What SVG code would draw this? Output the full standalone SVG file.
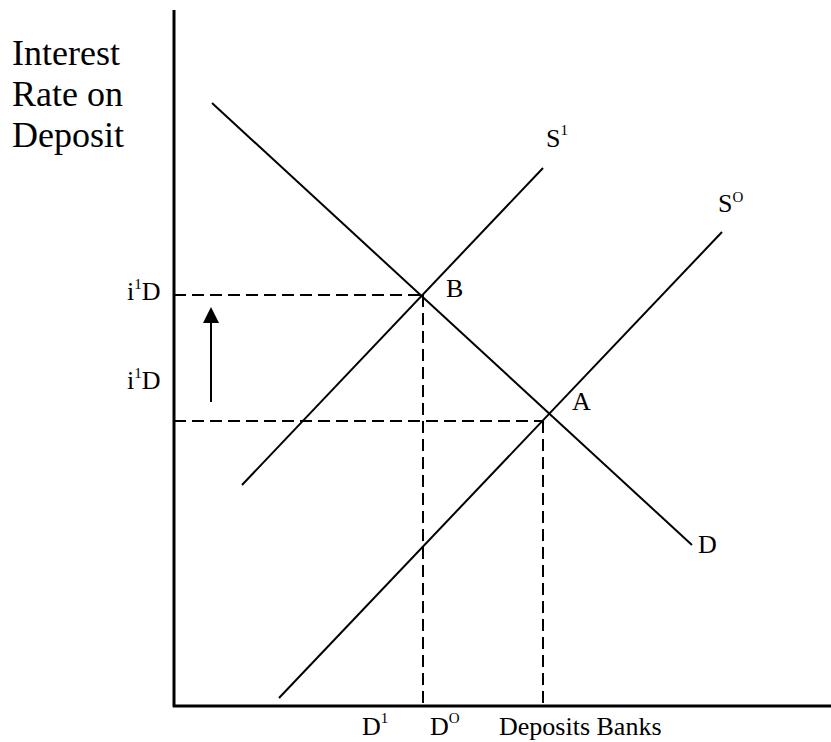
<svg xmlns="http://www.w3.org/2000/svg" width="831" height="742" viewBox="0 0 831 742">
<style>
.ln{stroke:#000;stroke-width:2;fill:none}
.ax{stroke:#000;stroke-width:3;fill:none}
.ds{stroke:#000;stroke-width:2;fill:none;stroke-dasharray:12,6}
text{font-family:"Liberation Serif","Times New Roman",serif;fill:#000}
.t{font-size:26px}
.big{font-size:36px}
.sup{font-size:15px}
</style>
<g id="axes">
<line class="ax" x1="174" y1="10" x2="174" y2="707"/>
<line class="ax" x1="173" y1="706" x2="831" y2="706"/>
</g>
<g id="title">
<text class="big" x="12" y="65">Interest</text>
<text class="big" x="12" y="106">Rate on</text>
<text class="big" x="12" y="147">Deposit</text>
</g>
<g id="connectors">
<line class="ds" x1="174" y1="295" x2="421" y2="295"/>
<line class="ds" x1="423" y1="295" x2="423" y2="706"/>
<line class="ds" x1="174" y1="421" x2="543" y2="421"/>
<line class="ds" x1="543" y1="421" x2="543" y2="706"/>
<path d="M211,402 L211,320" class="ln"/>
<path d="M203,323 L211,307 L219,323 z" fill="#000"/>
</g>
<g id="curveD">
<line class="ln" x1="212" y1="103" x2="692" y2="545"/>
<text class="t" x="698" y="553">D</text>
</g>
<g id="curveS1">
<line class="ln" x1="242" y1="485" x2="543" y2="168"/>
<text class="t" x="546" y="147">S<tspan class="sup" dy="-12">1</tspan></text>
</g>
<g id="curveS0">
<line class="ln" x1="279" y1="698" x2="722" y2="232"/>
<text class="t" x="718" y="212">S<tspan class="sup" dy="-10">O</tspan></text>
</g>
<g id="pointB"><text class="t" x="446" y="297">B</text></g>
<g id="pointA"><text class="t" x="572" y="410">A</text></g>
<g id="ylabels">
<text class="t" x="127" y="300">i<tspan class="sup" dy="-11">1</tspan><tspan dy="11">D</tspan></text>
<text class="t" x="127" y="389">i<tspan class="sup" dy="-11">1</tspan><tspan dy="11">D</tspan></text>
</g>
<g id="xlabels">
<text class="t" x="362" y="735">D<tspan class="sup" dy="-12">1</tspan></text>
<text class="t" x="430" y="735">D<tspan class="sup" dy="-12">O</tspan></text>
<text class="t" x="499" y="735">Deposits Banks</text>
</g>
</svg>
